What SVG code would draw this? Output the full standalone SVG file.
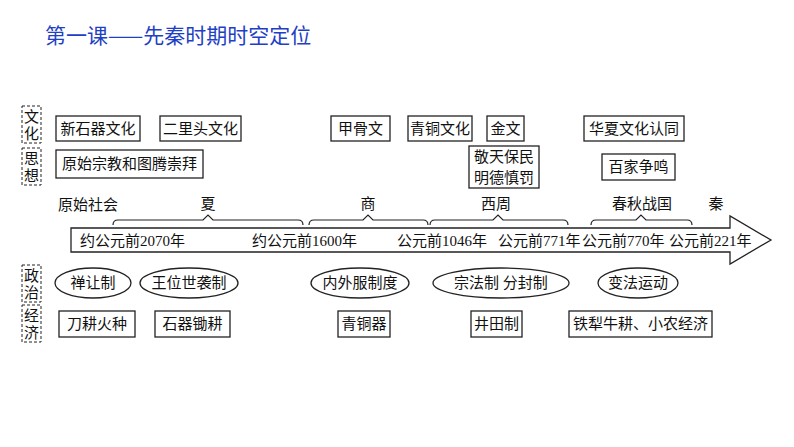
<svg xmlns="http://www.w3.org/2000/svg" width="794" height="447" viewBox="0 0 794 447">
<style>
text{font-family:"Liberation Serif","Noto Sans CJK SC",serif;font-size:15px;fill:#111}
.b{fill:#fff;stroke:#222;stroke-width:1.3}
.d{fill:none;stroke:#222;stroke-width:1;stroke-dasharray:3,2}
.c{text-anchor:middle}
.br{fill:none;stroke:#222;stroke-width:1.2}
</style>
<rect width="794" height="447" fill="#fff"/>
<text x="45" y="43" style="font-family:'Noto Sans CJK SC',sans-serif;font-size:21px;fill:#1f3fc4">第一课——先秦时期时空定位</text>
<g id="side">
<rect class="d" x="22" y="106" width="19" height="37"/><text class="c" x="31.5" y="122">文</text><text class="c" x="31.5" y="139">化</text>
<rect class="d" x="22" y="148" width="19" height="37"/><text class="c" x="31.5" y="164">思</text><text class="c" x="31.5" y="181">想</text>
<rect class="d" x="22" y="265" width="19" height="37"/><text class="c" x="31.5" y="281">政</text><text class="c" x="31.5" y="298">治</text>
<rect class="d" x="22" y="305" width="19" height="37"/><text class="c" x="31.5" y="321">经</text><text class="c" x="31.5" y="338">济</text>
</g>
<g id="culture">
<rect class="b" x="56" y="116" width="84" height="25"/><text class="c" x="98" y="134">新石器文化</text>
<rect class="b" x="160" y="116" width="81" height="25"/><text class="c" x="200.5" y="134">二里头文化</text>
<rect class="b" x="331" y="116" width="59" height="25"/><text class="c" x="360.5" y="134">甲骨文</text>
<rect class="b" x="408" y="116" width="64" height="25"/><text class="c" x="440" y="134">青铜文化</text>
<rect class="b" x="487" y="116" width="37" height="25"/><text class="c" x="505.5" y="134">金文</text>
<rect class="b" x="584" y="116" width="100" height="25"/><text class="c" x="634" y="134">华夏文化认同</text>
<rect class="b" x="56" y="150" width="147" height="28"/><text class="c" x="129.5" y="169">原始宗教和图腾崇拜</text>
<rect class="b" x="469" y="146" width="70" height="42"/><text class="c" x="504" y="162">敬天保民</text><text class="c" x="504" y="183">明德慎罚</text>
<rect class="b" x="602" y="154" width="73" height="26"/><text class="c" x="638.5" y="172">百家争鸣</text>
</g>
<g id="periods">
<text x="58" y="210">原始社会</text>
<text class="c" x="208" y="209">夏</text>
<text class="c" x="368" y="209">商</text>
<text class="c" x="496" y="209">西周</text>
<text class="c" x="642" y="209">春秋战国</text>
<text class="c" x="716" y="209">秦</text>
</g>
<g id="connectors">
<path class="br" d="M113 225 Q113 220 118 220 L203 220 L208 215 L213 220 L298 220 Q303 220 303 225"/>
<path class="br" d="M309 225 Q309 220 314 220 L363 220 L368 215 L373 220 L423 220 Q428 220 428 225"/>
<path class="br" d="M430 225 Q430 220 435 220 L493 220 L498 215 L503 220 L563 220 Q568 220 568 225"/>
<path class="br" d="M591 225 Q591 220 596 220 L636 220 L641 215 L646 220 L687 220 Q692 220 692 225"/>
<path d="M71 228 L730 228 L730 216 L771 240 L730 264 L730 252 L71 252 Z" fill="#fff" stroke="#222" stroke-width="1.3"/>
</g>
<g id="dates">
<text x="80" y="246">约公元前2070年</text>
<text x="252" y="246">约公元前1600年</text>
<text x="397" y="246">公元前1046年</text>
<text x="498" y="246">公元前771年</text>
<text x="582" y="246">公元前770年</text>
<text x="669" y="246">公元前221年</text>
</g>
<g id="politics">
<ellipse class="b" cx="93" cy="283" rx="38" ry="15"/><text class="c" x="93" y="288">禅让制</text>
<ellipse class="b" cx="189" cy="283" rx="49" ry="15"/><text class="c" x="189" y="288">王位世袭制</text>
<ellipse class="b" cx="360" cy="283" rx="49" ry="15"/><text class="c" x="360" y="288">内外服制度</text>
<ellipse class="b" cx="501" cy="283" rx="68" ry="15"/><text class="c" x="501" y="288">宗法制 分封制</text>
<ellipse class="b" cx="638" cy="283" rx="40" ry="15"/><text class="c" x="638" y="288">变法运动</text>
</g>
<g id="economy">
<rect class="b" x="59" y="311" width="76" height="26"/><text class="c" x="97" y="329">刀耕火种</text>
<rect class="b" x="155" y="311" width="75" height="26"/><text class="c" x="192.5" y="329">石器锄耕</text>
<rect class="b" x="338" y="311" width="52" height="26"/><text class="c" x="364" y="329">青铜器</text>
<rect class="b" x="471" y="311" width="51" height="26"/><text class="c" x="496.5" y="329">井田制</text>
<rect class="b" x="569" y="311" width="143" height="26"/><text class="c" x="640.5" y="329">铁犁牛耕、小农经济</text>
</g>
</svg>
